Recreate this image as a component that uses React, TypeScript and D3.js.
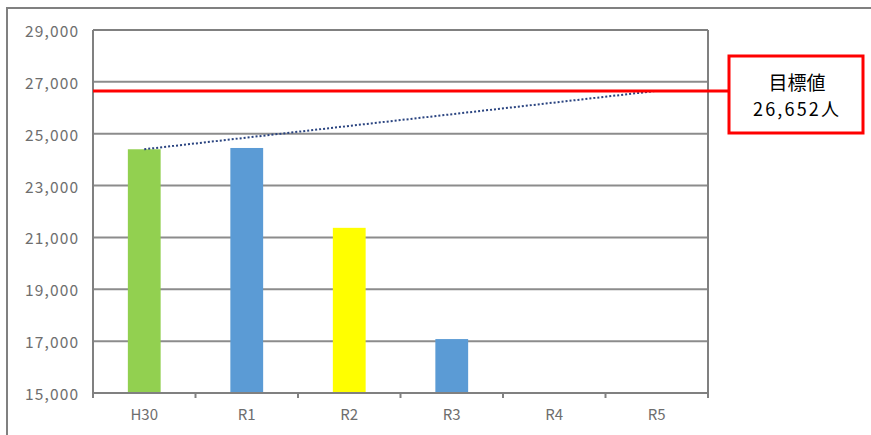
import React from "react";
import * as d3 from "d3";

const categories = ["H30", "R1", "R2", "R3", "R4", "R5"];
const values: (number | null)[] = [24400, 24450, 21370, 17080, null, null];
const barColors = ["#92D050", "#5B9BD5", "#FFFF00", "#5B9BD5", "#5B9BD5", "#5B9BD5"];
const yTicks = [15000, 17000, 19000, 21000, 23000, 25000, 27000, 29000];
const target = 26652;
const targetLabel = ["目標値", "26,652人"];

export default function App() {
  const W = 871, H = 435;
  const left = 93, right = 708, top = 30, bottom = 393;
  const x = d3.scaleBand<string>().domain(categories).range([left, right]).paddingInner(0.68).paddingOuter(0.34);
  const y = d3.scaleLinear().domain([15000, 29000]).range([bottom, top]);
  const step = x.step();
  const fmt = d3.format(",");
  const startX = (x("H30") as number) + x.bandwidth() / 2;
  const endX = (x("R5") as number) + x.bandwidth() / 2;
  const font = "'Noto Sans CJK JP', 'Noto Sans', sans-serif";
  return (
    <svg width={W} height={H} style={{ position: "absolute", left: 0, top: 0 }}>
      <rect x={0} y={0} width={W} height={H} fill="#fff" />
      <rect x={7} y={8} width={W + 20} height={H + 20} fill="none" stroke="#808080" strokeWidth={2} />
      {yTicks.map((t) => (
        <g key={t}>
          <line x1={left} x2={right} y1={y(t)} y2={y(t)} stroke="#8c8c8c" strokeWidth={2} />
          <text x={78} y={y(t)} textAnchor="end" dominantBaseline="central" fontFamily={font} fontSize={15.5}
            fill="#6e6e6e" textLength={53} lengthAdjust="spacing">{fmt(t)}</text>
        </g>
      ))}
      <line x1={left} x2={left} y1={top} y2={bottom} stroke="#808080" strokeWidth={2} />
      <line x1={right} x2={right} y1={top} y2={bottom} stroke="#808080" strokeWidth={2} />
      <line x1={left} x2={right} y1={top} y2={top} stroke="#808080" strokeWidth={2} />
      {categories.map((c, i) => {
        const v = values[i];
        return v == null ? null : (
          <rect key={c} x={x(c)} y={y(v)} width={x.bandwidth()} height={y(15000) - y(v)} fill={barColors[i]} />
        );
      })}
      <line x1={left} x2={right} y1={bottom} y2={bottom} stroke="#808080" strokeWidth={2} />
      {d3.range(categories.length + 1).map((i) => (
        <line key={i} x1={left + i * step} x2={left + i * step} y1={bottom} y2={bottom + 5} stroke="#808080" strokeWidth={2} />
      ))}
      {categories.map((c) => (
        <text key={c} x={(x(c) as number) + x.bandwidth() / 2} y={413} textAnchor="middle" dominantBaseline="central"
          fontFamily={font} fontSize={15} fill="#6e6e6e">{c}</text>
      ))}
      <line x1={startX} y1={y(values[0] as number)} x2={endX} y2={y(target)} stroke="#2a4480" strokeWidth={2} strokeDasharray="2,2" />
      <line x1={left} x2={729} y1={y(target)} y2={y(target)} stroke="#FF0000" strokeWidth={3} />
      <rect x={729} y={56} width={134} height={77} fill="#fff" stroke="#FF0000" strokeWidth={3} />
      <text x={797} y={81} textAnchor="middle" dominantBaseline="central" fontFamily={font} fontSize={19} fill="#000">{targetLabel[0]}</text>
      <text x={796} y={108} textAnchor="middle" dominantBaseline="central" fontFamily={font} fontSize={18} fill="#000"
        textLength={86} lengthAdjust="spacing">{targetLabel[1]}</text>
    </svg>
  );
}
